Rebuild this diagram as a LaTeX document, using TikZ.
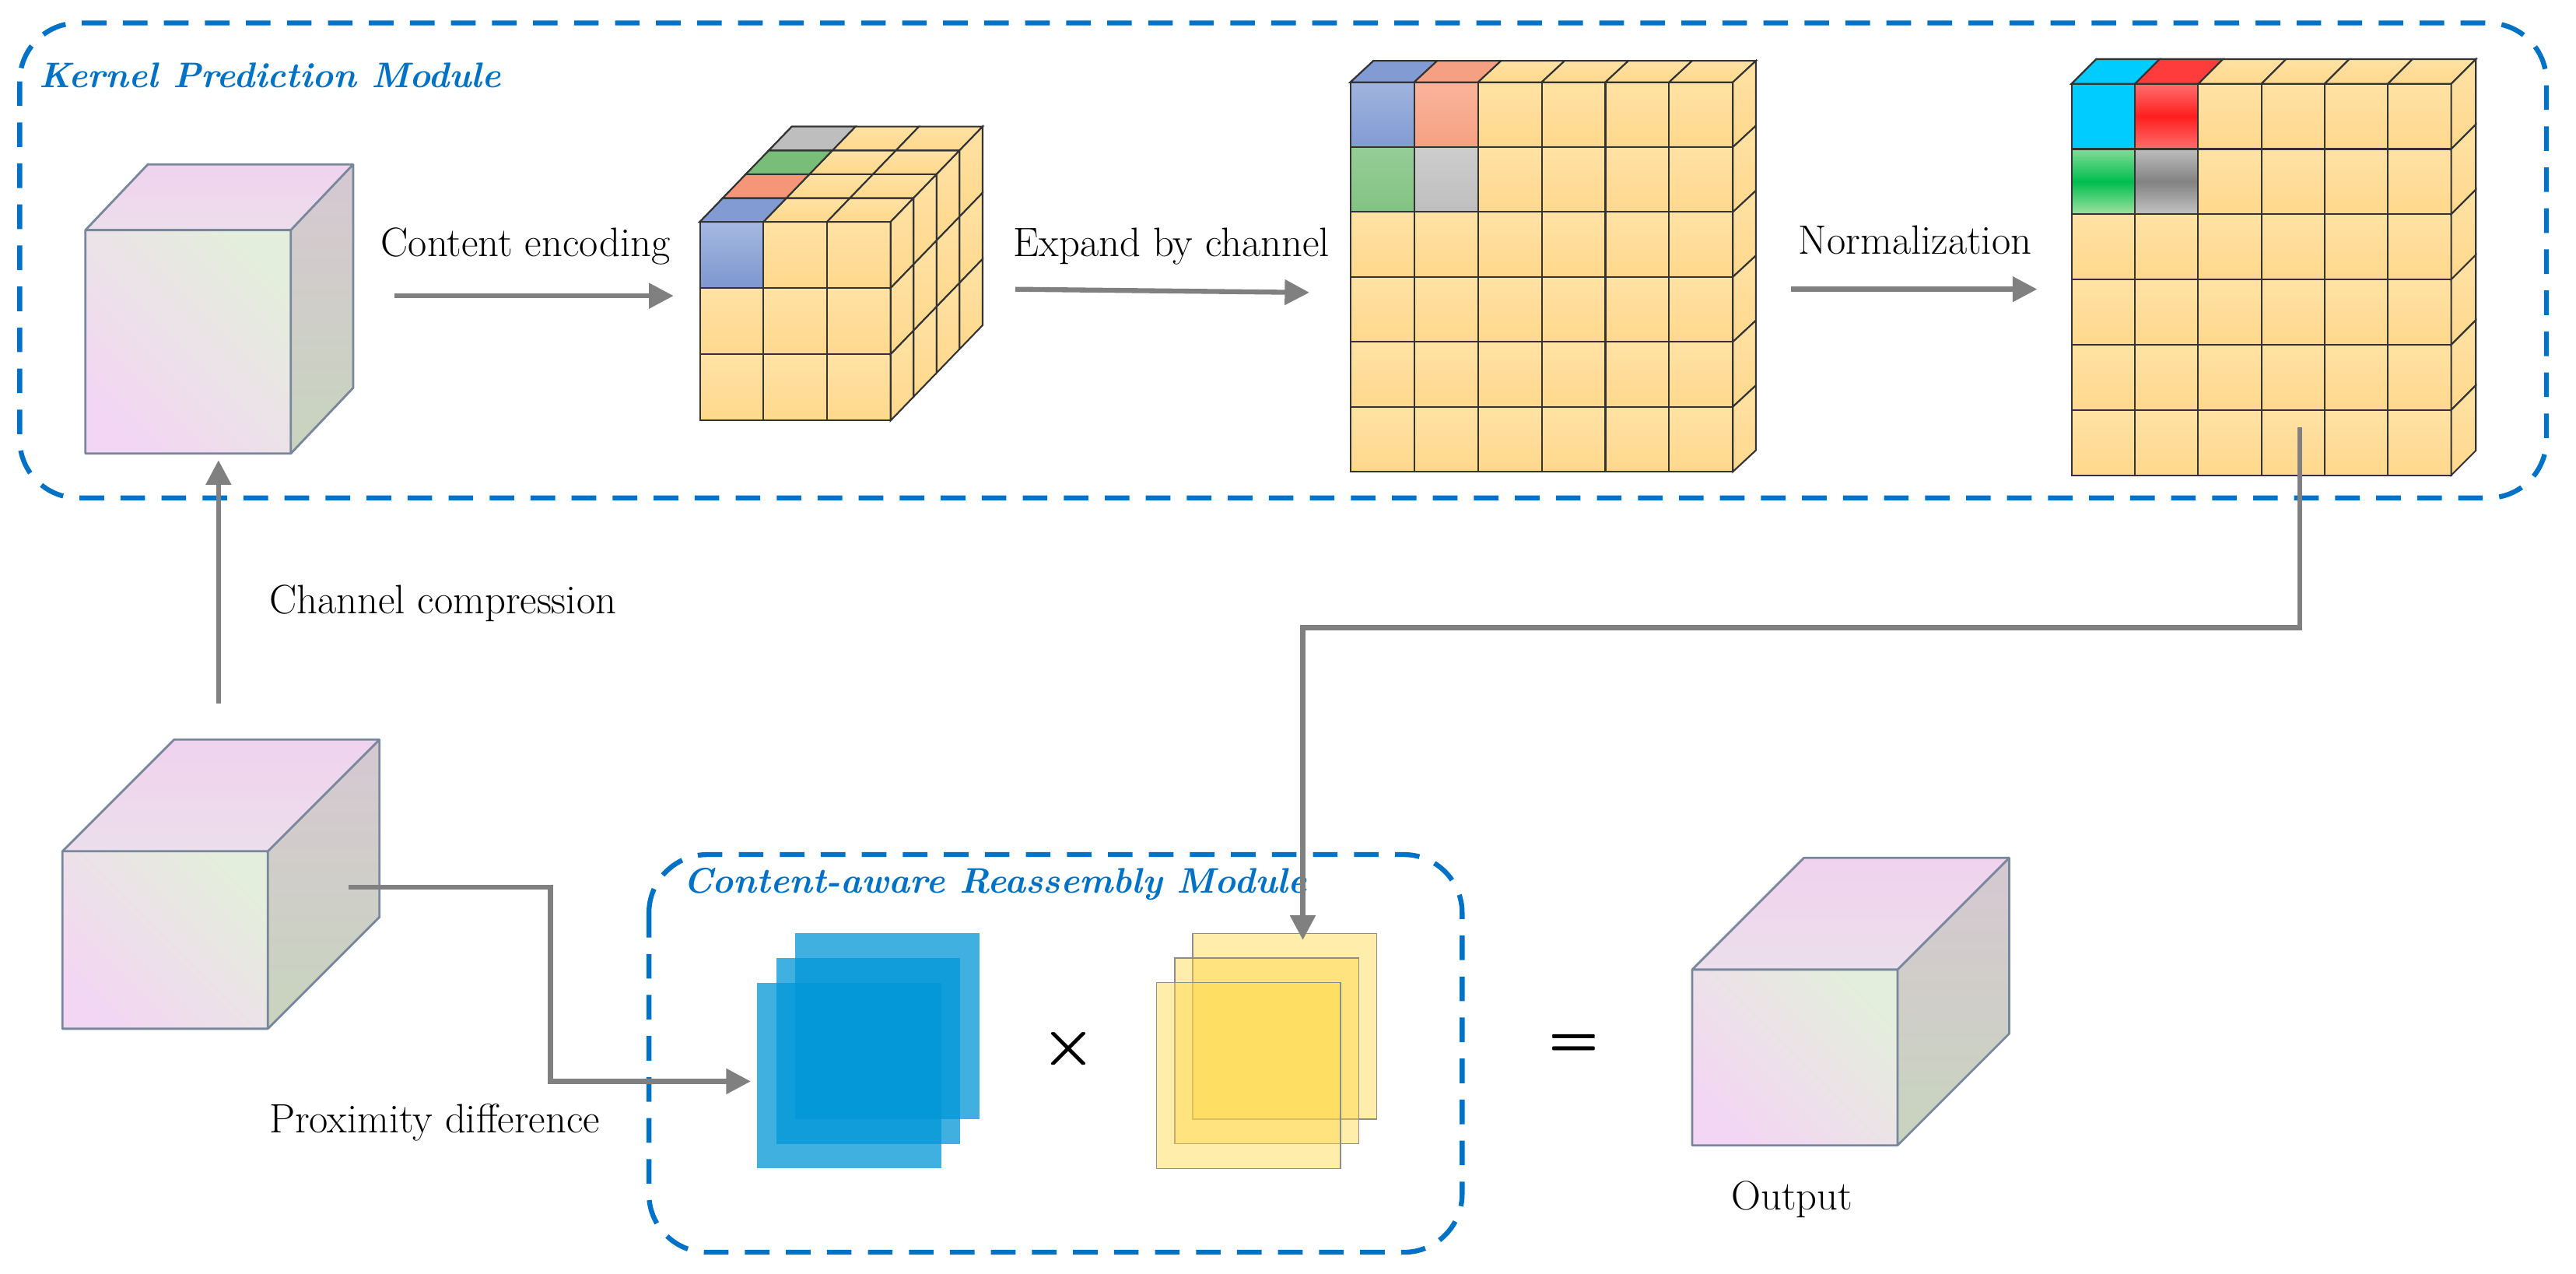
\documentclass[tikz,border=0pt]{standalone}
\usetikzlibrary{arrows.meta}
\begin{document}
\definecolor{mblue}{RGB}{0,114,198}
\definecolor{agray}{RGB}{128,128,128}
\definecolor{org}{RGB}{255,216,140}
\definecolor{orgl}{RGB}{255,226,165}
\begin{tikzpicture}[x=0.021117cm,y=-0.021117cm,
  cell/.style={draw=black!80,line width=0.6pt,top color=orgl,bottom color=org},
  modbox/.style={draw=mblue,line width=1.8pt,dash pattern=on 9pt off 6pt,rounded corners=0.75cm},
  modlbl/.style={text=mblue,font=\fontsize{13}{15}\selectfont\bfseries\itshape,anchor=west},
  lbl/.style={font=\fontsize{15}{18}\selectfont,anchor=west},
  arr/.style={draw=agray,line width=1.8pt,-{Triangle[length=9pt,width=9pt]}},
  ln/.style={draw=agray,line width=1.8pt}]
\useasboundingbox (0,0) rectangle (1568,775);

\newcommand\plaincube[6]{%
  \fill[left color={rgb,255:red,243;green,214;blue,243},right color={rgb,255:red,228;green,238;blue,220},shading angle=135]
    (#1,#2) rectangle ++(#3,#4);
  \fill[top color={rgb,255:red,240;green,210;blue,238},bottom color={rgb,255:red,236;green,222;blue,236}]
    (#1,#2) -- ++(#5,#6) -- ++(#3,0) -- ++(-#5,-#6) -- cycle;
  \fill[top color={rgb,255:red,214;green,200;blue,210},bottom color={rgb,255:red,200;green,212;blue,190}]
    ({#1+#3},#2) -- ++(#5,#6) -- ++(0,#4) -- ++(-#5,-#6) -- cycle;
  \draw[draw={rgb,255:red,120;green,135;blue,155},line width=0.8pt,line join=round]
    (#1,#2) rectangle ++(#3,#4)
    (#1,#2) -- ++(#5,#6) -- ++(#3,0) -- ++(0,#4) -- ++(-#5,-#6)
    ({#1+#3},#2) -- ++(#5,#6);
}
\newcommand\setgc[9]{\def\GX{#1}\def\GY{#2}\def\GC{#3}\def\GR{#4}\def\GD{#5}\def\GW{#6}\def\GH{#7}\def\GDX{#8}\def\GDY{#9}}
\newcommand\gcube{%
  \foreach \c in {1,...,\GC}{\foreach \r in {1,...,\GR}{
    \draw[cell] ({\GX+(\c-1)*\GW},{\GY+(\r-1)*\GH}) rectangle ++(\GW,\GH);}}
  \foreach \c in {1,...,\GC}{\foreach \d in {1,...,\GD}{
    \draw[cell] ({\GX+(\c-1)*\GW+(\d-1)*\GDX},{\GY+(\d-1)*\GDY}) -- ++(\GW,0) -- ++(\GDX,\GDY) -- ++(-\GW,0) -- cycle;}}
  \foreach \r in {1,...,\GR}{\foreach \d in {1,...,\GD}{
    \draw[cell] ({\GX+\GC*\GW+(\d-1)*\GDX},{\GY+(\r-1)*\GH+(\d-1)*\GDY}) -- ++(\GDX,\GDY) -- ++(0,\GH) -- ++(-\GDX,-\GDY) -- cycle;}}
}
\newcommand\fcell[3]{\draw[draw=black!80,line width=0.6pt,#3] ({\GX+#1*\GW},{\GY+#2*\GH}) rectangle ++(\GW,\GH);}
\newcommand\tcell[3]{\draw[draw=black!80,line width=0.6pt,#3] ({\GX+#1*\GW+#2*\GDX},{\GY+#2*\GDY}) -- ++(\GW,0) -- ++(\GDX,\GDY) -- ++(-\GW,0) -- cycle;}

\draw[modbox] (12,14) rectangle (1550,303);
\node[modlbl] (kpm) at (18,46) {Kernel Prediction Module};

\plaincube{52}{140}{125}{136}{38}{-40}
\coordinate (c1r) at (240,180);

\setgc{426}{135}{3}{3}{4}{38.7}{40.3}{14}{-14.5}
\gcube
\fcell{0}{0}{top color={rgb,255:red,165;green,185;blue,225},bottom color={rgb,255:red,125;green,150;blue,205}}
\tcell{0}{0}{fill={rgb,255:red,130;green,155;blue,210}}
\tcell{0}{1}{fill={rgb,255:red,245;green,150;blue,120}}
\tcell{0}{2}{fill={rgb,255:red,120;green,190;blue,120}}
\tcell{0}{3}{fill={rgb,255:red,190;green,190;blue,190}}
\coordinate (cAl) at (410,180);
\coordinate (cAr) at (618,176);

\setgc{822}{50}{6}{6}{1}{38.8}{39.5}{14}{-13}
\gcube
\fcell{0}{0}{top color={rgb,255:red,160;green,180;blue,222},bottom color={rgb,255:red,130;green,155;blue,210}}
\fcell{1}{0}{top color={rgb,255:red,250;green,180;blue,155},bottom color={rgb,255:red,245;green,160;blue,130}}
\fcell{0}{1}{top color={rgb,255:red,150;green,205;blue,150},bottom color={rgb,255:red,130;green,195;blue,130}}
\fcell{1}{1}{top color={rgb,255:red,205;green,205;blue,205},bottom color={rgb,255:red,190;green,190;blue,190}}
\tcell{0}{0}{fill={rgb,255:red,130;green,155;blue,210}}
\tcell{1}{0}{fill={rgb,255:red,245;green,160;blue,130}}
\coordinate (cBl) at (797,178);
\coordinate (cBr) at (1090,176);

\setgc{1261}{51}{6}{6}{1}{38.5}{39.7}{15}{-15}
\gcube
\fcell{0}{0}{fill={rgb,255:red,0;green,204;blue,255}}
\fcell{1}{0}{top color={rgb,255:red,255;green,110;blue,110},bottom color={rgb,255:red,255;green,110;blue,110},middle color={rgb,255:red,255;green,30;blue,30}}
\fcell{0}{1}{top color={rgb,255:red,130;green,220;blue,150},bottom color={rgb,255:red,160;green,225;blue,160},middle color={rgb,255:red,0;green,190;blue,80}}
\fcell{1}{1}{top color={rgb,255:red,190;green,190;blue,190},bottom color={rgb,255:red,195;green,195;blue,195},middle color={rgb,255:red,130;green,130;blue,130}}
\tcell{0}{0}{fill={rgb,255:red,0;green,204;blue,255}}
\tcell{1}{0}{fill={rgb,255:red,255;green,60;blue,60}}
\coordinate (cCl) at (1240,176);
\coordinate (cCb) at (1400,260);

\draw[arr] (c1r) -- (cAl);
\node[lbl] (t1) at (226,150) {Content encoding};
\draw[arr] (cAr) -- (cBl);
\node[lbl] (t2) at (611,150) {Expand by channel};
\draw[arr] (cBr) -- (cCl);
\node[lbl] (t3) at (1089,146) {Normalization};

\plaincube{38}{518}{125}{108}{68}{-68}
\coordinate (inTop) at (133,428);
\coordinate (k1b) at (133,280);
\draw[arr] (inTop) -- (k1b);
\node[lbl] (t4) at (158,367) {Channel compression};
\coordinate (inR) at (212,540);
\node[lbl] (t5) at (158,683) {Proximity difference};

\draw[modbox] (395,520) rectangle (890,762);
\node[modlbl] (crm) at (410,538) {Content-aware Reassembly Module};

\foreach \o in {0,1,2}{
  \fill[fill={rgb,255:red,0;green,150;blue,215},fill opacity=0.75] ({484-11.5*\o},{568+15*\o}) rectangle ++(112,113);}
\coordinate (bsq) at (457,658);
\foreach \o in {0,1,2}{
  \filldraw[fill={rgb,255:red,255;green,215;blue,70},fill opacity=0.45,draw=black!45,line width=0.4pt] ({726-11*\o},{568+15*\o}) rectangle ++(112,113);}
\coordinate (ysq) at (793,572);

\node[font=\fontsize{34}{34}\selectfont] (times) at (650,638) {$\times$};
\node[font=\fontsize{34}{34}\selectfont] (eq) at (958,637) {$=$};
\node[font=\fontsize{34}{34}\selectfont] at (650.8,638) {$\times$};
\node[font=\fontsize{34}{34}\selectfont] at (958,638) {$=$};

\draw[arr] (inR) -- (335,540) -- (335,658) -- (bsq);
\draw[arr] (cCb) -- (1400,382) -- (793,382) -- (ysq);

\plaincube{1030}{590}{125}{107}{68}{-68}
\node[lbl] (t6) at (1048,730) {Output};
\end{tikzpicture}
\end{document}
